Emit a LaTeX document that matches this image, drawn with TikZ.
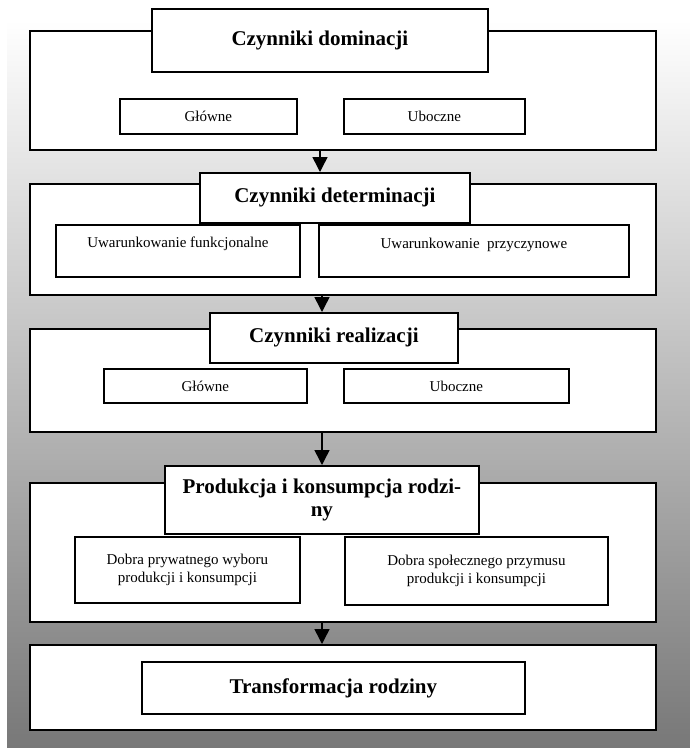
\documentclass[tikz,border=0pt]{standalone}
\usepackage{fontspec}
\setmainfont{Liberation Serif}
\usetikzlibrary{arrows.meta,calc}
\begin{document}
\begin{tikzpicture}[x=1pt,y=-1pt,
  box/.style={draw=black, line width=1.8pt, fill=white, inner sep=0pt, anchor=north west, align=center},
  ttl/.style={box, font=\bfseries\fontsize{21}{23}\selectfont},
  sub/.style={box, font=\fontsize{15}{17.5}\selectfont},
  txt/.style={inner sep=0pt, align=center, font=\fontsize{15}{17.5}\selectfont},
  arr/.style={line width=1.5pt, -{Triangle[width=15pt,length=15pt]}}]
\useasboundingbox (0,0) rectangle (690,748);
\shade[top color=white, bottom color=black!53] (7,20) rectangle (690,748);

% level 1
\node[box, minimum width=626pt, minimum height=119pt] (o1) at (29,30) {};
\node[ttl, minimum width=336pt, minimum height=63pt] (t1) at (151,8) {Czynniki dominacji};
\node[sub, minimum width=177pt, minimum height=35pt] (g1) at (119,98) {Główne};
\node[sub, minimum width=181pt, minimum height=35pt] (u1) at (343,98) {Uboczne};

% level 2
\node[box, minimum width=626pt, minimum height=111pt] (o2) at (29,183) {};
\node[ttl, minimum width=270pt, minimum height=50pt] (t2) at (199,172) {Czynniki determinacji};
\node[box, minimum width=244pt, minimum height=52pt] (f2) at (55,224) {};
\node[txt] (f2t) at ([yshift=7pt]f2.center) {Uwarunkowanie funkcjonalne};
\node[box, minimum width=310pt, minimum height=52pt] (p2) at (318,224) {};
\node[txt] (p2t) at ([yshift=6pt]p2.center) {Uwarunkowanie~ przyczynowe};

% level 3
\node[box, minimum width=626pt, minimum height=103pt] (o3) at (29,328) {};
\node[ttl, minimum width=248pt, minimum height=50pt] (t3) at (209,312) {Czynniki realizacji};
\node[sub, minimum width=203pt, minimum height=34pt] (g3) at (103,368) {Główne};
\node[sub, minimum width=225pt, minimum height=34pt] (u3) at (343,368) {Uboczne};

% level 4
\node[box, minimum width=626pt, minimum height=139pt] (o4) at (29,482) {};
\node[ttl, minimum width=314pt, minimum height=68pt] (t4) at (164,465) {Produkcja i konsumpcja rodzi-\\ny};
\node[sub, minimum width=225pt, minimum height=66pt] (d1) at (74,536) {Dobra prywatnego wyboru\\produkcji i konsumpcji};
\node[sub, minimum width=263pt, minimum height=68pt] (d2) at (344,536) {Dobra społecznego przymusu\\produkcji i konsumpcji};

% level 5
\node[box, minimum width=626pt, minimum height=85pt] (o5) at (29,644) {};
\node[ttl, minimum width=383pt, minimum height=52pt] (t5) at (141,661) {Transformacja rodziny};

% connectors
\coordinate (a1) at (320,0);
\coordinate (ax) at (322,0);
\draw[arr] (a1 |- o1.south) -- (a1 |- t2.north);
\draw[arr] (ax |- o2.south) -- (ax |- t3.north);
\draw[arr] (ax |- o3.south) -- (ax |- t4.north);
\draw[arr] (ax |- o4.south) -- (ax |- o5.north);
\end{tikzpicture}
\end{document}
